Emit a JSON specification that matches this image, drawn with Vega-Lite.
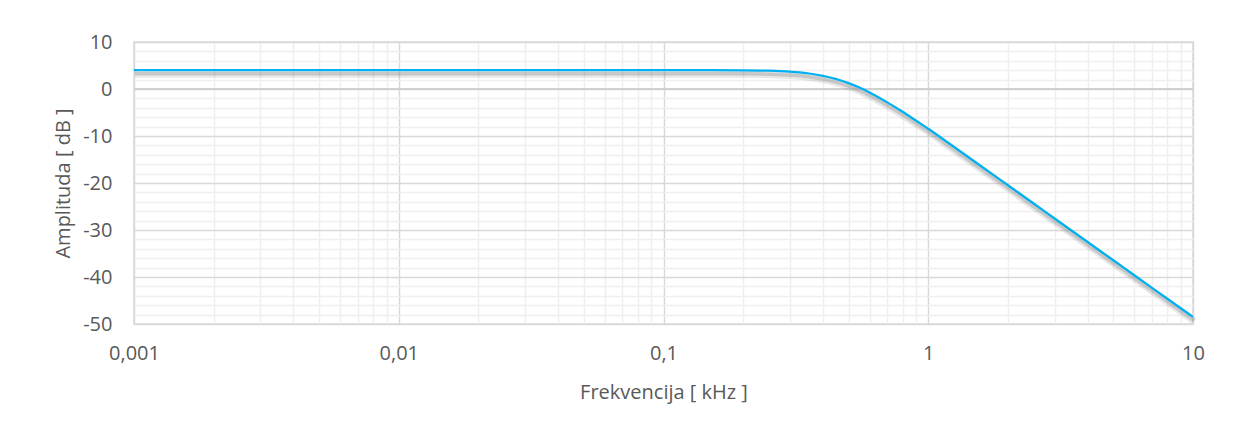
{
  "$schema": "https://vega.github.io/schema/vega-lite/v6.json",
  "autosize": "none",
  "width": 1059,
  "height": 282,
  "padding": {"left": 134, "top": 42, "right": 46, "bottom": 105},
  "background": "white",
  "config": {
    "view": {"stroke": "#d9d9d9", "strokeWidth": 1.5},
    "font": "Open Sans",
    "axis": {
      "labelFont": "Open Sans",
      "labelFontSize": 20,
      "labelColor": "#595959",
      "titleFont": "Open Sans",
      "titleFontSize": 20,
      "titleFontWeight": "normal",
      "titleColor": "#595959",
      "domain": false,
      "ticks": false,
      "labelOverlap": false,
      "labelFlush": false
    }
  },
  "data": {
    "values": [
      {"f": 0.001, "dB": 4.0},
      {"f": 0.002, "dB": 4.0},
      {"f": 0.005, "dB": 4.0},
      {"f": 0.01, "dB": 4.0},
      {"f": 0.02, "dB": 4.0},
      {"f": 0.05, "dB": 4.0},
      {"f": 0.1, "dB": 4.0},
      {"f": 0.15, "dB": 4.0},
      {"f": 0.2, "dB": 3.98},
      {"f": 0.25, "dB": 3.9},
      {"f": 0.3, "dB": 3.7},
      {"f": 0.35, "dB": 3.35},
      {"f": 0.4, "dB": 2.8},
      {"f": 0.45, "dB": 2.1},
      {"f": 0.5, "dB": 1.25},
      {"f": 0.55, "dB": 0.3},
      {"f": 0.6, "dB": -0.75},
      {"f": 0.7, "dB": -2.85},
      {"f": 0.8, "dB": -4.85},
      {"f": 0.9, "dB": -6.75},
      {"f": 1.0, "dB": -8.45},
      {"f": 1.2, "dB": -11.6},
      {"f": 1.5, "dB": -15.47},
      {"f": 2.0, "dB": -20.48},
      {"f": 2.5, "dB": -24.37},
      {"f": 3.0, "dB": -27.55},
      {"f": 4.0, "dB": -32.56},
      {"f": 5.0, "dB": -36.44},
      {"f": 6.0, "dB": -39.62},
      {"f": 7.0, "dB": -42.3},
      {"f": 8.0, "dB": -44.62},
      {"f": 10.0, "dB": -48.5}
    ]
  },
  "encoding": {
    "x": {
      "field": "f",
      "type": "quantitative",
      "scale": {"type": "log", "domain": [0.001, 10], "nice": false},
      "axis": {
        "title": "Frekvencija [ kHz ]",
        "titlePadding": 19,
        "labelPadding": 19,
        "values": [0.001, 0.002, 0.003, 0.004, 0.005, 0.006, 0.007, 0.008, 0.009,
                   0.01, 0.02, 0.03, 0.04, 0.05, 0.06, 0.07, 0.08, 0.09,
                   0.1, 0.2, 0.3, 0.4, 0.5, 0.6, 0.7, 0.8, 0.9,
                   1, 2, 3, 4, 5, 6, 7, 8, 9, 10],
        "labelExpr": "abs(log(datum.value)/LN10 - round(log(datum.value)/LN10)) < 1e-6 ? replace('' + datum.value, '.', ',') : ''",
        "grid": true,
        "gridColor": {"condition": {"test": "abs(log(datum.value)/LN10 - round(log(datum.value)/LN10)) < 1e-6", "value": "#d9d9d9"}, "value": "#efefef"},
        "gridWidth": 1.5
      }
    },
    "y": {
      "field": "dB",
      "type": "quantitative",
      "scale": {"domain": [-50, 10], "nice": false, "zero": false},
      "axis": {
        "title": "Amplituda [ dB ]",
        "titlePadding": 9,
        "labelPadding": 22,
        "values": [-50, -48, -46, -44, -42, -40, -38, -36, -34, -32, -30, -28, -26, -24, -22, -20, -18, -16, -14, -12, -10, -8, -6, -4, -2, 0, 2, 4, 6, 8, 10],
        "labelExpr": "datum.value % 10 === 0 ? '' + datum.value : ''",
        "grid": true,
        "gridColor": {"condition": {"test": "datum.value % 10 === 0", "value": "#d9d9d9"}, "value": "#efefef"},
        "gridWidth": 1.5
      }
    }
  },
  "layer": [
    {
      "mark": {"type": "rule", "color": "#d0d0d0", "strokeWidth": 2},
      "encoding": {"y": {"datum": 0}, "x": null}
    },
    {
      "mark": {"type": "line", "color": "#8c8c8c", "strokeWidth": 7, "opacity": 0.2, "yOffset": 4, "xOffset": 1, "interpolate": "monotone"}
    },
    {
      "mark": {"type": "line", "color": "#8c8c8c", "strokeWidth": 3.5, "opacity": 0.35, "yOffset": 3.5, "xOffset": 1, "interpolate": "monotone"}
    },
    {
      "mark": {"type": "line", "color": "#00b0f0", "strokeWidth": 2.25, "interpolate": "monotone"}
    }
  ]
}
